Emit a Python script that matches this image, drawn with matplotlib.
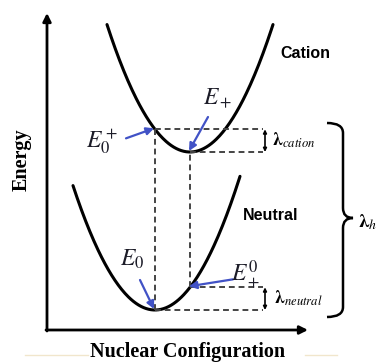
import numpy as np
import matplotlib
matplotlib.use("Agg")
import matplotlib.pyplot as plt
from matplotlib.path import Path
from matplotlib.patches import PathPatch

plt.rcParams['mathtext.fontset'] = 'stix'

# ---- data (schematic potential energy surfaces) ----
states = ["Neutral", "Cation"]
q_min = [108.0, 143.0]          # equilibrium nuclear configuration
E_min = [20.0, 178.0]           # minimum energy
curvature = [0.0185, 0.0185]    # harmonic force constant
q_range = [(26.0, 193.0), (60.0, 226.0)]
axis_len = [261.0, 317.0]       # x-axis, y-axis lengths

def pes(i, q):
    return E_min[i] + curvature[i] * (np.asarray(q) - q_min[i]) ** 2

E0 = E_min[0]
Ep = E_min[1]
E0p = float(pes(1, q_min[0]))   # cation energy at neutral geometry
Ep0 = float(pes(0, q_min[1]))   # neutral energy at cation geometry

fig = plt.figure(figsize=(3.87, 3.62), dpi=100)
ax = fig.add_axes([0, 0, 1, 1])
ax.set_xlim(-47, 340)
ax.set_ylim(-32, 330)
ax.axis('off')

# axes arrows
ax.annotate('', xy=(axis_len[0], 0), xytext=(-1, 0),
            arrowprops=dict(arrowstyle='-|>', lw=2, color='black', mutation_scale=12,
                            shrinkA=0, shrinkB=0))
ax.annotate('', xy=(0, axis_len[1]), xytext=(0, -1),
            arrowprops=dict(arrowstyle='-|>', lw=2, color='black', mutation_scale=12,
                            shrinkA=0, shrinkB=0))

# curves
for i in range(2):
    q = np.linspace(q_range[i][0], q_range[i][1], 200)
    ax.plot(q, pes(i, q), color='black', lw=2.2, solid_capstyle='round')

# dashed guide lines
dash = dict(color='#444444', lw=1.4, ls=(0, (3, 2)))
x_end = 216
ax.plot([q_min[0], x_end], [E0p, E0p], **dash)
ax.plot([q_min[1], x_end], [Ep, Ep], **dash)
ax.plot([q_min[1], x_end], [Ep0, Ep0], **dash)
ax.plot([q_min[0], x_end], [E0, E0], **dash)
ax.plot([q_min[0], q_min[0]], [E0, E0p], **dash)
ax.plot([q_min[1], q_min[1]], [Ep0, Ep], **dash)

# small double arrows
for lo, hi in [(Ep, E0p), (E0, Ep0)]:
    ax.annotate('', xy=(x_end + 2, hi), xytext=(x_end + 2, lo),
                arrowprops=dict(arrowstyle='<|-|>', lw=1.2, color='black',
                                mutation_scale=5, shrinkA=0, shrinkB=0))

ax.text(x_end + 9, (Ep + E0p) / 2, r'$\mathbf{\lambda}_{cation}$', fontsize=13,
        ha='left', va='center')
ax.text(x_end + 11, (E0 + Ep0) / 2, r'$\mathbf{\lambda}_{neutral}$', fontsize=13,
        ha='left', va='center')

# blue arrows and energy labels
blue = '#4152c6'
lab = '#1c1c28'
arrows = [
    ((q_min[0], E0p), (-29, -9), r'$E_0^+$', (-53, -12)),
    ((q_min[1], Ep), (18, 35), r'$E_+$', (28, 54)),
    ((q_min[0], E0), (-15, 30), r'$E_0$', (-23, 51)),
    ((q_min[1], Ep0), (43, 8), r'$E_+^0$', (56, 13)),
]
for (tx, ty), (dx, dy), text, (lx, ly) in arrows:
    ax.annotate('', xy=(tx - 1, ty + 1), xytext=(tx + dx, ty + dy),
                arrowprops=dict(arrowstyle='-|>', lw=1.6, color=blue,
                                mutation_scale=11, shrinkA=0, shrinkB=0))
    ax.text(tx + lx, ty + ly, text, fontsize=17, color=lab, ha='center', va='center')

# state labels
ax.text(233, 277, 'Cation', fontsize=11.5, fontweight='bold', family='Liberation Sans',
        ha='left', va='center')
ax.text(196, 115, 'Neutral', fontsize=11.5, fontweight='bold', family='Liberation Sans',
        ha='left', va='center')

# brace
x0, xm, xt = 280, 296, 306
y_top, y_bot = 207, 13
y_mid = (y_top + y_bot) / 2 + 2
r = 10
verts = [(x0, y_top), (xm, y_top), (xm, y_top - r),
         (xm, y_mid + r), (xm, y_mid), (xt, y_mid),
         (xm, y_mid), (xm, y_mid - r),
         (xm, y_bot + r), (xm, y_bot), (x0, y_bot)]
codes = [Path.MOVETO, Path.CURVE3, Path.CURVE3,
         Path.LINETO, Path.CURVE3, Path.CURVE3,
         Path.CURVE3, Path.CURVE3,
         Path.LINETO, Path.CURVE3, Path.CURVE3]
ax.add_patch(PathPatch(Path(verts, codes), fill=False, lw=1.8, color='black'))
ax.text(311, y_mid - 4, r'$\mathbf{\lambda}_{h}$', fontsize=14, ha='left', va='center')

# axis titles
ax.text(-25, 170, 'Energy', rotation=90, fontsize=14.5, fontweight='bold',
        family='Liberation Serif', ha='center', va='center')
ax.text(141, -22, 'Nuclear Configuration', fontsize=14.5, fontweight='bold',
        family='Liberation Serif', ha='center', va='center')

# faint decorative lines
ax.plot([-22, 41], [-25, -25], color='#f1e6cc', lw=1)
ax.plot([258, 290], [-25, -25], color='#f1e6cc', lw=1)

fig.savefig('out.png', dpi=100)
